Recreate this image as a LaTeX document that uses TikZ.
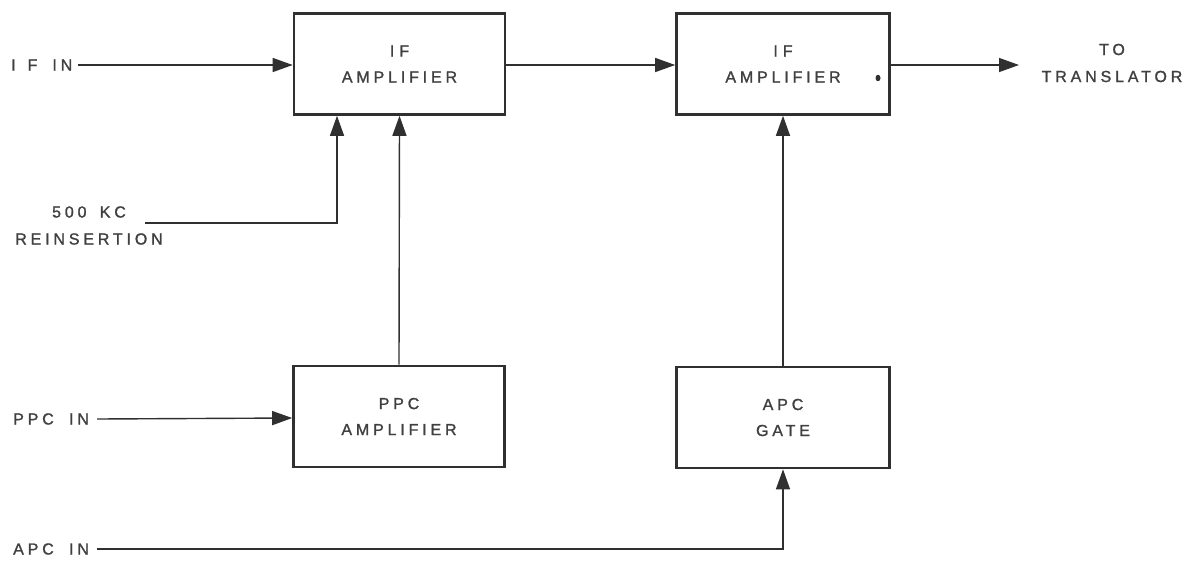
\documentclass[tikz,border=0pt]{standalone}
\usepackage{fontspec}
\setmainfont{Liberation Sans}[LetterSpace=24,FakeBold=1.3]
\usetikzlibrary{arrows.meta}
\definecolor{ink}{HTML}{303030}
\definecolor{txt}{HTML}{404040}
\begin{document}
\begin{tikzpicture}[x=1pt,y=-1pt,
  blk/.style={draw=ink,line width=2.6pt,minimum width=211pt,minimum height=101pt,inner sep=0pt,
    align=center,text=txt,font=\fontsize{16}{26}\selectfont},
  lbl/.style={text=txt,font=\fontsize{16}{27}\selectfont,inner sep=0pt,align=center},
  wire/.style={draw=ink,line width=1.4pt},
  arr/.style={wire,-{Triangle[length=20pt,width=14pt]}}]
\useasboundingbox (0,0) rectangle (1191,560);
\fill[white] (0,0) rectangle (1191,560);
% blocks
\node[blk] (b1) at (399.5,64) {I\hspace{5pt}F\\AMPLIFIER};
\node[blk,minimum width=213pt] (b2) at (783,64) {I\hspace{5pt}F\\AMPLIFIER};
\node[blk] (ppc) at (399,416.5) {PPC\\AMPLIFIER};
\node[blk,minimum width=213pt] (apc) at (783,417.5) {APC\\GATE};
\fill[ink] (878,78) ellipse (2.5pt and 3.2pt);
% labels
\node[lbl,anchor=west] (ifin) at (11,65) {I\hspace{12pt}F\hspace{15pt}IN};
\node[lbl] (reins) at (89,225.5) {500\hspace{5pt} KC\\REINSERTION};
\node[lbl,anchor=west] (ppcin) at (13,419) {PPC\hspace{7pt} IN};
\node[lbl,anchor=west] (apcin) at (13,549) {APC\hspace{7pt} IN};
\node[lbl] (trans) at (1112,63) {TO\\TRANSLATOR};
% connector end points
\coordinate (rs) at (145,223);
\coordinate (tt) at (1019,65);
% connectors
\draw[arr] (ifin.east) ++(6pt,0) -- (b1.west |- 0,65);
\draw[arr] (rs) -| ([xshift=-62.5pt]b1.south);
\draw[arr] (ppc.north) -- (b1.south);
\draw[arr] (b1.east |- 0,65) -- (b2.west |- 0,65);
\draw[arr] (b2.east |- 0,65) -- (tt);
\draw[arr] (apc.north) -- (b2.south);
\draw[arr] ([xshift=8pt]ppcin.east) -- (ppc.west |- 0,418);
\draw[arr] ([xshift=8pt]apcin.east) -| (apc.south);
\end{tikzpicture}
\end{document}
